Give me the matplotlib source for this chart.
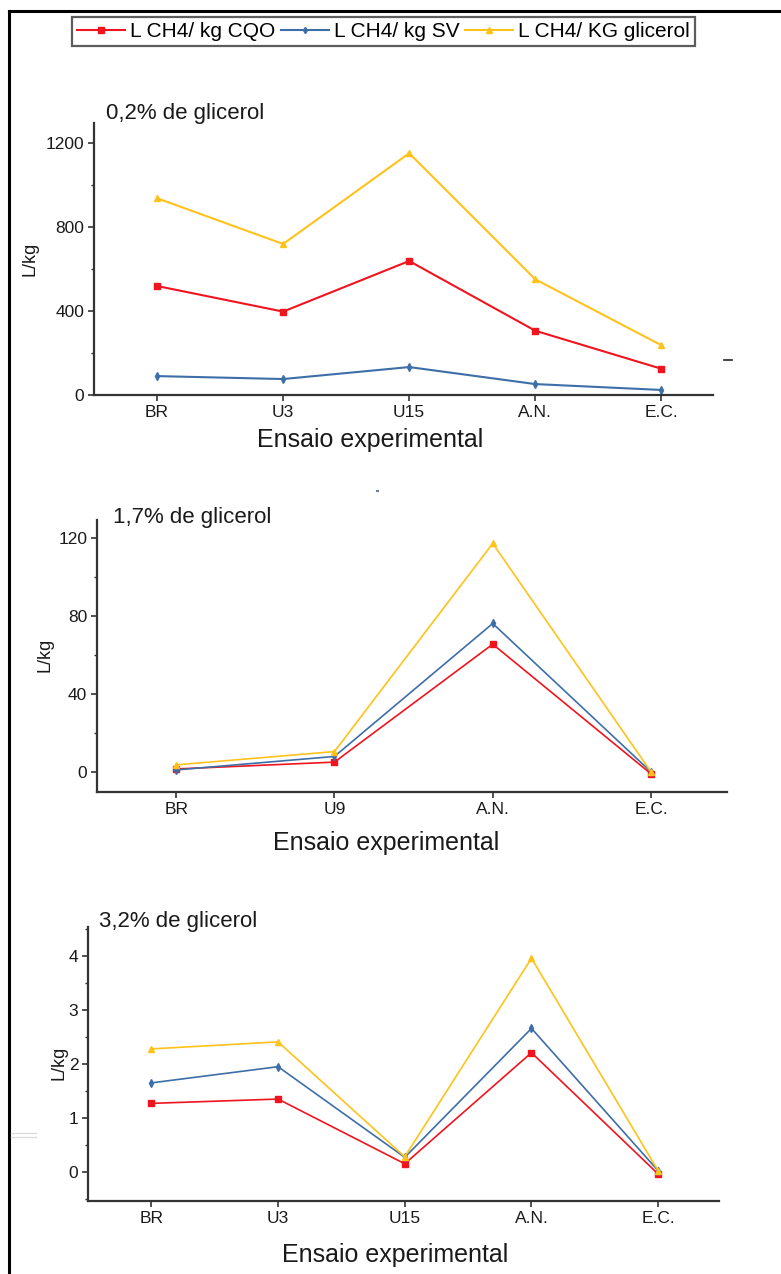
import matplotlib
matplotlib.use("Agg")
import matplotlib.pyplot as plt
from matplotlib.lines import Line2D
from matplotlib.ticker import AutoMinorLocator

plt.rcParams['font.family'] = ['Liberation Sans', 'DejaVu Sans']

W, H = 781, 1274

series_labels = ['L CH4/ kg CQO', 'L CH4/ kg SV', 'L CH4/ KG glicerol']
colors = ['#f0141e', '#3d6ea8', '#ffc21a']
markers = ['s', 'd', '^']
marker_sizes = [5.0, 4.0, 5.0]

# 0,2% de glicerol
cats_02 = ['BR', 'U3', 'U15', 'A.N.', 'E.C.']
cqo_02 = [519, 397, 638, 306, 125]
sv_02 = [90, 76, 133, 52, 24]
glic_02 = [937, 719, 1151, 551, 237]

# 1,7% de glicerol
cats_17 = ['BR', 'U9', 'A.N.', 'E.C.']
cqo_17 = [1.5, 5.0, 65.4, -1.0]
sv_17 = [1.0, 7.9, 76.0, 0.0]
glic_17 = [3.6, 10.4, 117.0, 0.0]

# 3,2% de glicerol
cats_32 = ['BR', 'U3', 'U15', 'A.N.', 'E.C.']
cqo_32 = [1.27, 1.35, 0.15, 2.21, -0.04]
sv_32 = [1.65, 1.95, 0.27, 2.66, 0.02]
glic_32 = [2.28, 2.41, 0.28, 3.96, 0.02]

fig = plt.figure(figsize=(W / 100, H / 100), dpi=100)


def px_axes(left, right, top, bottom):
    return fig.add_axes([left / W, 1 - bottom / H, (right - left) / W, (bottom - top) / H])


def ftext(x, y, s, **kw):
    fig.text(x / W, 1 - y / H, s, **kw)


def draw_panel(box, cats, data, xlim, ylim, yticks, lw, title_xy, title, ylab_xy, xlab_xy):
    ax = px_axes(*box)
    xs = list(range(len(cats)))
    for vals, c, m, ms in zip(data, colors, markers, marker_sizes):
        ax.plot(xs, vals, color=c, lw=lw, marker=m, markersize=ms,
                markeredgecolor=c, markerfacecolor=c)
    ax.set_xlim(*xlim)
    ax.set_ylim(*ylim)
    ax.set_xticks(xs)
    ax.set_xticklabels(cats, fontsize=12.5)
    ax.set_yticks(yticks)
    ax.set_yticklabels([str(t) for t in yticks], fontsize=12.5)
    ax.yaxis.set_minor_locator(AutoMinorLocator(2))
    for s in ['top', 'right']:
        ax.spines[s].set_visible(False)
    for s in ['left', 'bottom']:
        ax.spines[s].set_linewidth(1.6)
        ax.spines[s].set_color('#333333')
    ax.tick_params(axis='both', which='major', direction='out', length=4, width=1.2,
                   color='#333333', labelcolor='#1a1a1a', pad=3)
    ax.tick_params(axis='y', which='minor', direction='out', length=2.5, width=1.0, color='#333333')
    ftext(*title_xy, title, fontsize=16, ha='left', va='center', color='#1a1a1a')
    ftext(*ylab_xy, 'L/kg', fontsize=13, rotation=90, ha='center', va='center', color='#1a1a1a')
    ftext(*xlab_xy, 'Ensaio experimental', fontsize=18, ha='center', va='center', color='#1a1a1a')
    return ax


draw_panel((94, 713, 123, 395), cats_02, [cqo_02, sv_02, glic_02],
           (-0.5, 4.41), (0, 1295), [0, 400, 800, 1200], 1.5,
           (106, 114), '0,2% de glicerol', (30, 259), (370, 440))
draw_panel((97, 727, 520, 792), cats_17, [cqo_17, sv_17, glic_17],
           (-0.5, 3.48), (-10.3, 129), [0, 40, 80, 120], 1.2,
           (113, 517), '1,7% de glicerol', (45, 655), (386, 843))
draw_panel((88, 719, 927, 1201), cats_32, [cqo_32, sv_32, glic_32],
           (-0.5, 4.48), (-0.54, 4.54), [0, 1, 2, 3, 4], 1.2,
           (99, 922), '3,2% de glicerol', (59, 1063), (395, 1255))

handles = [Line2D([], [], color=c, lw=1.5, marker=m, markersize=ms * 0.8,
                  markeredgecolor=c, markerfacecolor=c)
           for c, m, ms in zip(colors, markers, marker_sizes)]
leg = fig.legend(handles, series_labels, loc='upper left', ncol=3,
                 bbox_to_anchor=(72 / W, 1 - 17 / H), fontsize=15,
                 frameon=True, fancybox=False, handlelength=2.3,
                 handletextpad=0.25, columnspacing=0.25, borderpad=0.25,
                 borderaxespad=0)
leg.get_frame().set_edgecolor('#333333')
leg.get_frame().set_linewidth(1.6)

# page frame along top and left edges
fig.add_artist(Line2D([9 / W, 1], [1 - 11 / H, 1 - 11 / H], color='black', lw=2.2))
fig.add_artist(Line2D([9 / W, 9 / W], [1 - 11 / H, 0], color='black', lw=2.2))

# small stray marks
fig.add_artist(Line2D([724 / W, 732 / W], [1 - 360 / H, 1 - 360 / H], color='#222222', lw=1.2))
fig.add_artist(Line2D([377 / W, 378 / W], [1 - 491 / H, 1 - 491 / H], color='#6a7fa8', lw=1.5))
fig.add_artist(Line2D([11 / W, 36 / W], [1 - 1133 / H, 1 - 1133 / H], color='#dddddd', lw=1.0))
fig.add_artist(Line2D([11 / W, 36 / W], [1 - 1137 / H, 1 - 1137 / H], color='#dddddd', lw=1.0))

fig.savefig('out.png', dpi=100)
